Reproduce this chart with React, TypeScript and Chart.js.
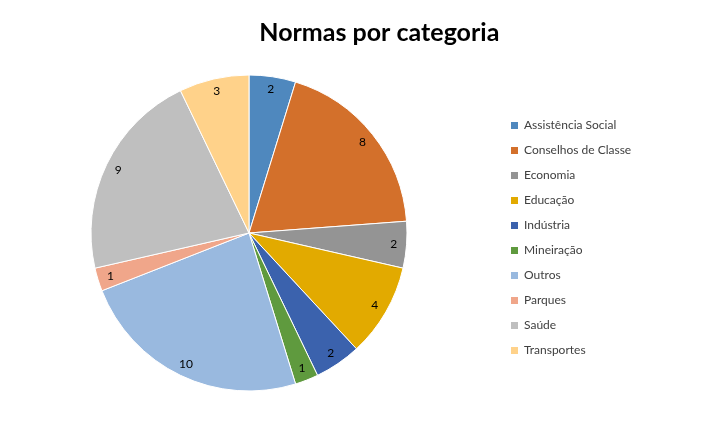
import { useEffect, useRef } from 'react';
import { Chart, registerables } from 'chart.js';

Chart.register(...registerables);

const chartTitle = 'Normas por categoria';
const categories = [
  'Assistência Social',
  'Conselhos de Classe',
  'Economia',
  'Educação',
  'Indústria',
  'Mineiração',
  'Outros',
  'Parques',
  'Saúde',
  'Transportes',
];
const values = [2, 8, 2, 4, 2, 1, 10, 1, 9, 3];
const colors = [
  '#4F88BE',
  '#D3702B',
  '#949494',
  '#E2AA00',
  '#3B62AD',
  '#5F9A3E',
  '#99B9DF',
  '#F0A68A',
  '#BFBFBF',
  '#FFD28A',
];

const FONT = 'Lato, "Noto Sans", sans-serif';

export default function App() {
  const ref = useRef<HTMLCanvasElement | null>(null);

  useEffect(() => {
    document.body.style.margin = '0';
    const canvas = ref.current!;
    const ctx = canvas.getContext('2d')!;

    ctx.font = `12px ${FONT}`;
    const maxText = Math.max(...categories.map((c) => ctx.measureText(c).width));
    const legendPad = 13;
    const boxW = 7;
    const legendW = legendPad + boxW + 6 + maxText + 10;
    const legendLeft = 498;
    const padRight = 709 - legendLeft - legendW;

    const titlePlugin = {
      id: 'customTitle',
      afterDraw(chart: any) {
        const c = chart.ctx;
        c.save();
        c.font = `bold 25px ${FONT}`;
        c.fillStyle = '#000000';
        c.textAlign = 'center';
        c.textBaseline = 'middle';
        c.fillText(chartTitle, chart.width * 0.535, 33);
        c.restore();
      },
    };

    const labelPlugin = {
      id: 'sliceLabels',
      afterDatasetsDraw(chart: any) {
        const c = chart.ctx;
        const meta = chart.getDatasetMeta(0);
        c.save();
        c.font = `12px ${FONT}`;
        c.fillStyle = '#000000';
        c.textAlign = 'center';
        c.textBaseline = 'middle';
        meta.data.forEach((arc: any, i: number) => {
          const p = arc.getProps(['x', 'y', 'startAngle', 'endAngle', 'outerRadius'], true);
          const mid = (p.startAngle + p.endAngle) / 2;
          const r = p.outerRadius * 0.918;
          c.fillText(String(values[i]), p.x + Math.cos(mid) * r, p.y + Math.sin(mid) * r);
        });
        c.restore();
      },
    };

    const defaultGen = (Chart as any).overrides.doughnut.plugins.legend.labels.generateLabels;

    const chart = new Chart(canvas, {
      type: 'pie',
      data: {
        labels: categories,
        datasets: [
          {
            data: values,
            backgroundColor: colors,
            borderColor: '#ffffff',
            borderWidth: 1,
          },
        ],
      },
      options: {
        animation: false,
        responsive: false,
        layout: {
          padding: { left: 0, right: padRight, top: 74.5, bottom: 30.5 },
        },
        plugins: {
          title: { display: false },
          tooltip: { enabled: false },
          legend: {
            position: 'right',
            align: 'center',
            title: { display: true, text: '', font: { size: 10, lineHeight: 1 }, padding: 0 },
            labels: {
              boxWidth: boxW,
              boxHeight: 7,
              padding: legendPad,
              color: '#404040',
              font: { family: FONT, size: 12 },
              generateLabels(ch: any) {
                return defaultGen(ch).map((l: any) => ({ ...l, lineWidth: 0, strokeStyle: 'transparent' }));
              },
            },
          },
        },
      },
      plugins: [titlePlugin, labelPlugin],
    });

    return () => chart.destroy();
  }, []);

  return (
    <div style={{ position: 'relative', width: 709, height: 422, background: '#ffffff' }}>
      <canvas ref={ref} width={709} height={422} />
    </div>
  );
}
